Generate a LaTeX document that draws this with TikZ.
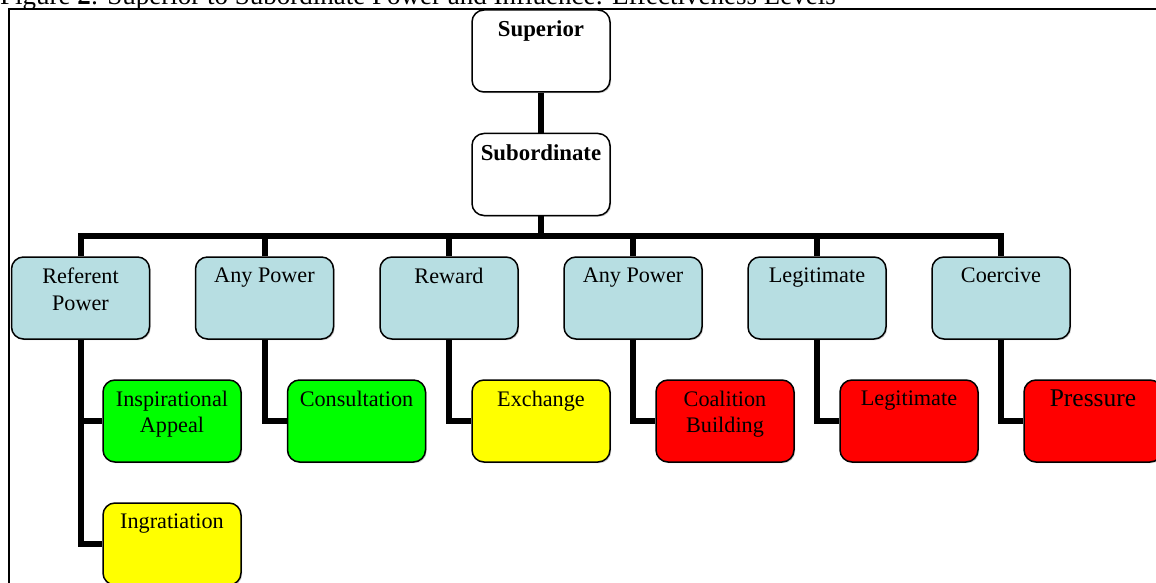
\documentclass[tikz,border=0pt]{standalone}
\usepackage{fontspec}
\setmainfont{Liberation Serif}
\usetikzlibrary{shadows}
\definecolor{pblue}{RGB}{183,222,226}
\definecolor{pgreen}{RGB}{0,255,0}
\definecolor{pyellow}{RGB}{255,255,0}
\definecolor{pred}{RGB}{255,0,0}
\tikzset{
  box/.style={draw=black, line width=1.5pt, rounded corners=12pt, minimum width=138pt, minimum height=82pt, inner sep=0pt,
    drop shadow={shadow xshift=1.2pt, shadow yshift=-1.2pt, fill=gray!70, opacity=0.6}},
  txt/.style={anchor=north, inner sep=0pt, align=center, font=\fontsize{22.2}{26.5}\selectfont},
  btxt/.style={txt, font=\fontsize{22.8}{27}\selectfont\bfseries},
  conn/.style={line width=6pt, black},
}
\newcommand{\boxtext}[3][txt]{\node[#1] (#2t) at ([yshift=-11.5pt]#2.north) {#3};}
\begin{document}
\begin{tikzpicture}[x=1pt, y=-1pt]
\useasboundingbox (0,0) rectangle (1156,583);
% title (partly cut off at the top)
\node[anchor=base west, inner sep=0pt, font=\fontsize{27}{32}\selectfont] (title) at (0,4.5) {Figure \textbf{2}: Superior to Subordinate Power and Influence: Effectiveness Levels};
% frame
\draw[line width=1.5pt] (9,600) -- (9,9) -- (1170,9);
% boxes
\node[box, fill=white] (sup) at (541,51) {};
\node[box, fill=white] (sub) at (541,174.5) {};
\node[box, fill=pblue] (ref) at (80.5,298) {};
\node[box, fill=pblue] (any1) at (264.5,298) {};
\node[box, fill=pblue] (rew) at (449,298) {};
\node[box, fill=pblue] (any2) at (633,298) {};
\node[box, fill=pblue] (leg) at (817,298) {};
\node[box, fill=pblue] (coe) at (1001,298) {};
\node[box, fill=pgreen] (insp) at (172,421) {};
\node[box, fill=pyellow] (ingr) at (172,544) {};
\node[box, fill=pgreen] (cons) at (356.5,421) {};
\node[box, fill=pyellow] (exch) at (541,421) {};
\node[box, fill=pred] (coal) at (725,421) {};
\node[box, fill=pred] (legc) at (909,421) {};
\node[box, fill=pred] (pres) at (1093,421) {};
% texts
\boxtext[btxt]{sup}{Superior}
\boxtext[btxt]{sub}{Subordinate}
\boxtext{ref}{Referent\\Power}
\boxtext{any1}{Any Power}
\boxtext{rew}{Reward}
\boxtext{any2}{Any Power}
\boxtext{leg}{Legitimate}
\boxtext{coe}{Coercive}
\boxtext{insp}{Inspirational\\Appeal}
\boxtext{ingr}{Ingratiation}
\boxtext{cons}{Consultation}
\boxtext{exch}{Exchange}
\boxtext{coal}{Coalition\\Building}
\boxtext{legc}{Legitimate}
\node[txt, font=\fontsize{25.5}{30}\selectfont] (prest) at ([yshift=-10pt]pres.north) {Pressure};
% connectors
\coordinate (bus) at (541,236);
\draw[conn] (sup.south) -- (sub.north);
\draw[conn] (sub.south) -- (bus);
\draw[conn] (ref.north) -- (ref.north |- bus) -| (coe.north);
\draw[conn] (any1.north) -- (any1.north |- bus);
\draw[conn] (rew.north) -- (rew.north |- bus);
\draw[conn] (any2.north) -- (any2.north |- bus);
\draw[conn] (leg.north) -- (leg.north |- bus);
\draw[conn] (ref.south) |- (insp.west);
\draw[conn] (ref.south) |- (ingr.west);
\draw[conn] (any1.south) |- (cons.west);
\draw[conn] (rew.south) |- (exch.west);
\draw[conn] (any2.south) |- (coal.west);
\draw[conn] (leg.south) |- (legc.west);
\draw[conn] (coe.south) |- (pres.west);
\end{tikzpicture}
\end{document}
